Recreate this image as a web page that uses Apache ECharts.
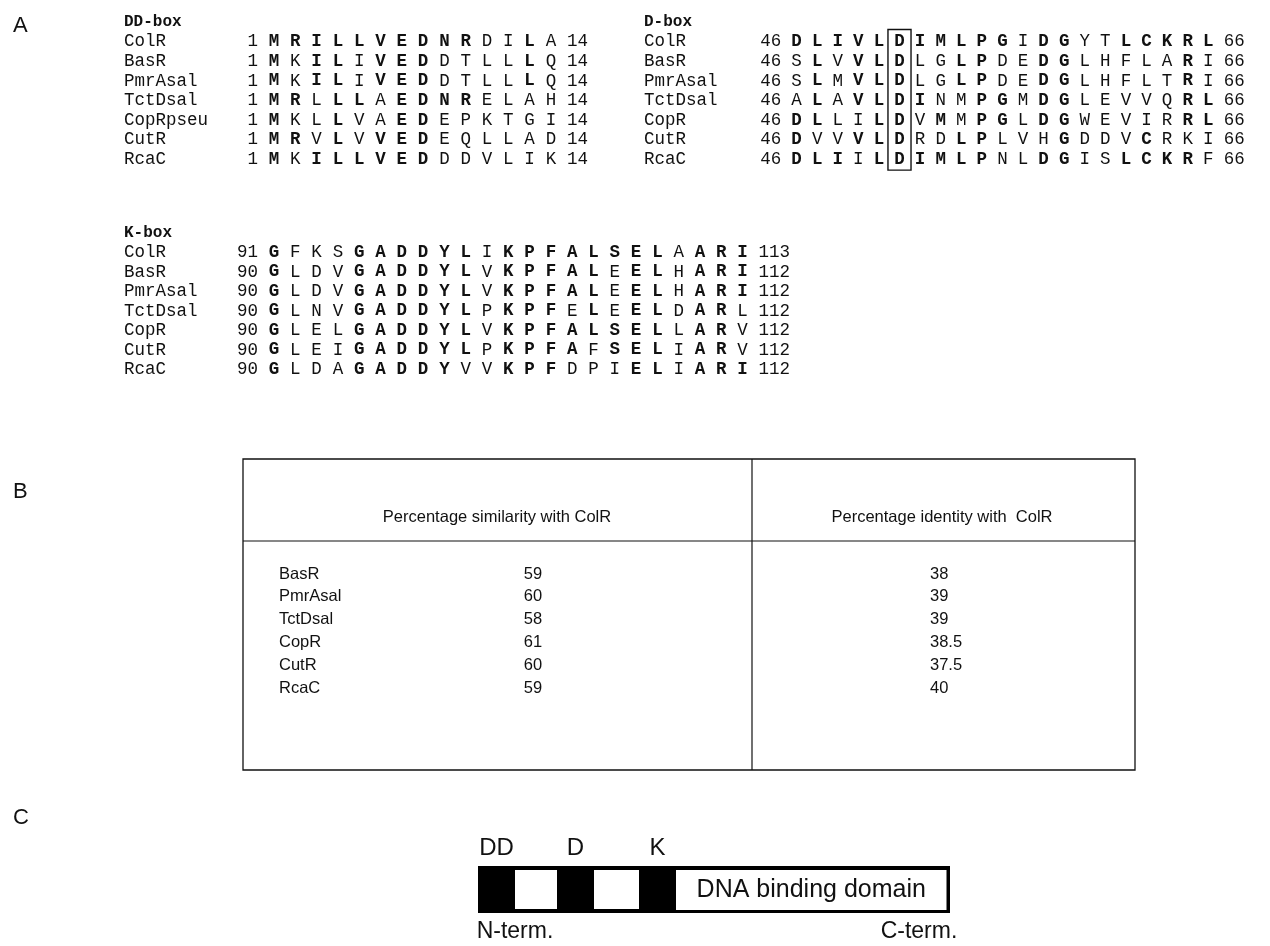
<!DOCTYPE html>
<html>
<head>
<meta charset="utf-8">
<script src="https://cdn.jsdelivr.net/npm/echarts@6/dist/echarts.min.js"></script>
<style>
  html, body { margin: 0; padding: 0; background: #fff; }
  #chart { width: 1270px; height: 946px; }
</style>
</head>
<body>
<div id="chart"></div>
<script>
// ---- panel A: alignment data ----
const ddNames = ['ColR', 'BasR', 'PmrAsal', 'TctDsal', 'CopRpseu', 'CutR', 'RcaC']
const ddSeqs = [
  'MRILLVEDNRDILA',
  'MKILIVEDDTLLLQ',
  'MKILIVEDDTLLLQ',
  'MRLLLAEDNRELAH',
  'MKLLVAEDEPKTGI',
  'MRVLVVEDEQLLAD',
  'MKILLVEDDDVLIK'
]
const ddStart = [1, 1, 1, 1, 1, 1, 1]
const ddEnd = [14, 14, 14, 14, 14, 14, 14]

const dNames = ['ColR', 'BasR', 'PmrAsal', 'TctDsal', 'CopR', 'CutR', 'RcaC']
const dSeqs = [
  'DLIVLDIMLPGIDGYTLCKRL',
  'SLVVLDLGLPDEDGLHFLARI',
  'SLMVLDLGLPDEDGLHFLTRI',
  'ALAVLDINMPGMDGLEVVQRL',
  'DLLILDVMMPGLDGWEVIRRL',
  'DVVVLDRDLPLVHGDDVCRKI',
  'DLIILDIMLPNLDGISLCKRF'
]
const dStart = [46, 46, 46, 46, 46, 46, 46]
const dEnd = [66, 66, 66, 66, 66, 66, 66]
const dBoxCol = 6   // the boxed conserved D

const kNames = ['ColR', 'BasR', 'PmrAsal', 'TctDsal', 'CopR', 'CutR', 'RcaC']
const kSeqs = [
  'GFKSGADDYLIKPFALSELAARI',
  'GLDVGADDYLVKPFALEELHARI',
  'GLDVGADDYLVKPFALEELHARI',
  'GLNVGADDYLPKPFELEELDARL',
  'GLELGADDYLVKPFALSELLARV',
  'GLEIGADDYLPKPFAFSELIARV',
  'GLDAGADDYVVKPFDPIELIARI'
]
const kStart = [91, 90, 90, 90, 90, 90, 90]
const kEnd = [113, 112, 112, 112, 112, 112, 112]

// ---- panel B: table data ----
const tableHeads = ['Percentage similarity with ColR', 'Percentage identity with  ColR']
const tableRows = ['BasR', 'PmrAsal', 'TctDsal', 'CopR', 'CutR', 'RcaC']
const similarity = [59, 60, 58, 61, 60, 59]
const identity = [38, 39, 39, 38.5, 37.5, 40]

// ---- panel C: domain sketch ----
const domainLabels = ['DD', 'D', 'K']
const domainEdges = [0, 37, 79, 116, 161, 198, 472]
const domainKinds = ['box', 'gap', 'box', 'gap', 'box', 'dna']
const dnaLabel = 'DNA binding domain'
const termLabels = ['N-term.', 'C-term.']

const INK = '#111'
const MONO_FAM = '"Liberation Mono", "DejaVu Sans Mono", monospace'
const MONO = '17.5px ' + MONO_FAM
const MONO_B = 'bold 17.5px ' + MONO_FAM
const SANS = '"Liberation Sans", Arial, sans-serif'

const grids = [], xAxes = [], yAxes = [], series = []

// residue is bold when it matches ColR (ColR bold when any other row matches it)
function isBold(seqs, r, c) {
  const ref = seqs[0][c]
  if (r > 0) return seqs[r][c] === ref
  return seqs.some((s, i) => i > 0 && s[c] === ref)
}

function textSeries(gi, items) {
  return {
    type: 'custom', coordinateSystem: 'cartesian2d',
    xAxisIndex: gi, yAxisIndex: gi, silent: true, clip: false, animation: false,
    data: items.map(d => [d.x, d.y]),
    renderItem(params, api) {
      const d = items[params.dataIndex]
      const p = api.coord([api.value(0), api.value(1)])
      return {
        type: 'text', x: p[0], y: p[1],
        style: { text: d.text, font: d.font, fill: INK, align: d.align, verticalAlign: 'middle' }
      }
    }
  }
}

function addBlock(title, names, seqs, starts, ends, L) {
  const gi = grids.length
  const n = seqs[0].length
  const xmin = 1 - (L.col1X - L.nameX) / L.colW
  const xmax = n + 3
  grids.push({ left: L.nameX, top: L.row0Y - L.rowH, width: (xmax - xmin) * L.colW, height: 7 * L.rowH })
  xAxes.push({ gridIndex: gi, type: 'value', min: xmin, max: xmax, show: false })
  yAxes.push({ gridIndex: gi, type: 'value', min: -1, max: 6, inverse: true, show: false })
  const items = [{ x: xmin, y: -1, text: title, font: 'bold 16px ' + MONO_FAM, align: 'left' }]
  names.forEach((nm, r) => {
    items.push({ x: xmin, y: r, text: nm, font: MONO, align: 'left' })
    items.push({ x: 0.25, y: r, text: String(starts[r]), font: MONO, align: 'right' })
    seqs[r].split('').forEach((ch, c) => {
      items.push({ x: c + 1, y: r, text: ch, font: isBold(seqs, r, c) ? MONO_B : MONO, align: 'center' })
    })
    items.push({ x: n + 0.75, y: r, text: String(ends[r]), font: MONO, align: 'left' })
  })
  series.push(textSeries(gi, items))
  return gi
}

addBlock('DD-box', ddNames, ddSeqs, ddStart, ddEnd, { nameX: 124, col1X: 274, colW: 21.3, row0Y: 41.7, rowH: 19.6 })
const dGrid = addBlock('D-box', dNames, dSeqs, dStart, dEnd, { nameX: 644, col1X: 803, colW: 21.45, row0Y: 41.7, rowH: 19.6 })
addBlock('K-box', kNames, kSeqs, kStart, kEnd, { nameX: 124, col1X: 274, colW: 21.3, row0Y: 252.5, rowH: 19.5 })

// frame round the conserved D column
series.push({
  type: 'custom', coordinateSystem: 'cartesian2d', xAxisIndex: dGrid, yAxisIndex: dGrid,
  silent: true, clip: false, animation: false,
  data: [[dBoxCol, 0]],
  renderItem(params, api) {
    const c = api.value(0)
    const a = api.coord([c - 0.56, -0.62])
    const b = api.coord([c + 0.56, 6.55])
    return {
      type: 'rect',
      shape: { x: a[0], y: a[1], width: b[0] - a[0], height: b[1] - a[1] },
      style: { fill: 'none', stroke: INK, lineWidth: 1.4 }
    }
  }
})

// ---- table (panel B) ----
const tGrid = grids.length
const rowStep = 22.8
grids.push({ left: 243, top: 574 - 3 * rowStep, width: 892, height: 8 * rowStep })
xAxes.push({ gridIndex: tGrid, type: 'value', min: 0, max: 892, show: false })
yAxes.push({ gridIndex: tGrid, type: 'value', min: -3, max: 5, inverse: true, show: false })
const tFont = '16.5px ' + SANS
const tItems = [
  { x: 254, y: -2.5, text: tableHeads[0], font: tFont, align: 'center' },
  { x: 699, y: -2.5, text: tableHeads[1], font: tFont, align: 'center' }
]
tableRows.forEach((nm, r) => {
  tItems.push({ x: 36, y: r, text: nm, font: tFont, align: 'left' })
  tItems.push({ x: 290, y: r, text: String(similarity[r]), font: tFont, align: 'center' })
  tItems.push({ x: 687, y: r, text: String(identity[r]), font: tFont, align: 'left' })
})
series.push(textSeries(tGrid, tItems))

// ---- domain sketch (panel C) ----
const cGrid = grids.length
grids.push({ left: 478, top: 866, width: 472, height: 47 })
xAxes.push({ gridIndex: cGrid, type: 'value', min: 0, max: 472, show: false })
yAxes.push({ gridIndex: cGrid, type: 'value', min: -0.5, max: 0.5, show: false })
const segData = [[domainEdges[0], domainEdges[domainEdges.length - 1], 0]]
domainKinds.forEach((k, i) => segData.push([domainEdges[i], domainEdges[i + 1], i + 1]))
series.push({
  type: 'custom', coordinateSystem: 'cartesian2d', xAxisIndex: cGrid, yAxisIndex: cGrid,
  silent: true, clip: false, animation: false,
  data: segData,
  renderItem(params, api) {
    const x0 = api.coord([api.value(0), 0.5])
    const x1 = api.coord([api.value(1), -0.5])
    const idx = api.value(2)
    if (idx === 0) {
      return { type: 'rect', shape: { x: x0[0], y: x0[1], width: x1[0] - x0[0], height: x1[1] - x0[1] }, style: { fill: '#000' } }
    }
    const kind = domainKinds[idx - 1]
    if (kind === 'box') return { type: 'group', children: [] }
    const inset = 4
    if (kind === 'gap') {
      return { type: 'rect', shape: { x: x0[0], y: x0[1] + inset, width: x1[0] - x0[0], height: x1[1] - x0[1] - 2 * inset }, style: { fill: '#fff' } }
    }
    return {
      type: 'group',
      children: [
        { type: 'rect', shape: { x: x0[0], y: x0[1] + inset, width: x1[0] - x0[0] - 3.5, height: x1[1] - x0[1] - inset - 3 }, style: { fill: '#fff' } },
        { type: 'text', x: (x0[0] + x1[0] - 3.5) / 2, y: (x0[1] + x1[1]) / 2 + 0.5,
          style: { text: dnaLabel, font: '25px ' + SANS, fill: INK, align: 'center', verticalAlign: 'middle' } }
      ]
    }
  }
})
const cItems = []
let bi = 0
domainKinds.forEach((k, i) => {
  if (k === 'box') {
    cItems.push({ x: (domainEdges[i] + domainEdges[i + 1]) / 2, y: 0.87, text: domainLabels[bi++], font: '24px ' + SANS, align: 'center' })
  }
})
cItems.push({ x: 37, y: -0.9, text: termLabels[0], font: '23px ' + SANS, align: 'center' })
cItems.push({ x: 441, y: -0.9, text: termLabels[1], font: '23px ' + SANS, align: 'center' })
series.push(textSeries(cGrid, cItems))

const chart = echarts.init(document.getElementById('chart'), null, { renderer: 'canvas' })
chart.setOption({
  animation: false,
  backgroundColor: '#fff',
  grid: grids,
  xAxis: xAxes,
  yAxis: yAxes,
  series: series,
  graphic: [
    { type: 'text', x: 13, y: 26, style: { text: 'A', font: '22px ' + SANS, fill: INK, verticalAlign: 'middle' } },
    { type: 'text', x: 13, y: 492, style: { text: 'B', font: '22px ' + SANS, fill: INK, verticalAlign: 'middle' } },
    { type: 'text', x: 13, y: 818, style: { text: 'C', font: '22px ' + SANS, fill: INK, verticalAlign: 'middle' } },
    { type: 'rect', shape: { x: 243, y: 459, width: 892, height: 311 }, style: { fill: 'none', stroke: INK, lineWidth: 1.3 } },
    { type: 'line', shape: { x1: 243, y1: 541, x2: 1135, y2: 541 }, style: { stroke: INK, lineWidth: 1.2 } },
    { type: 'line', shape: { x1: 752, y1: 459, x2: 752, y2: 770 }, style: { stroke: INK, lineWidth: 1.2 } }
  ]
})
window.addEventListener('resize', () => chart.resize())
</script>
</body>
</html>
